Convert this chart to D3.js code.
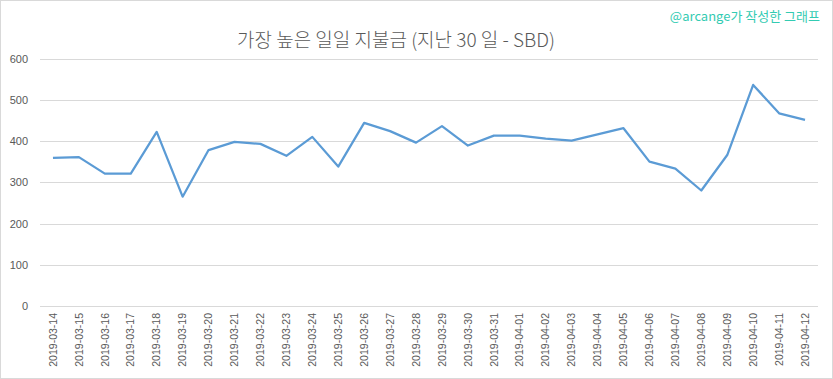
<!DOCTYPE html>
<html>
<head>
<meta charset="utf-8">
<script src="https://cdn.jsdelivr.net/npm/d3@7"></script>
<style>
  body { margin: 0; background: #fff; }
  svg { display: block; }
</style>
</head>
<body>
<script>
// data
var dates = ["2019-03-14","2019-03-15","2019-03-16","2019-03-17","2019-03-18","2019-03-19",
  "2019-03-20","2019-03-21","2019-03-22","2019-03-23","2019-03-24","2019-03-25","2019-03-26",
  "2019-03-27","2019-03-28","2019-03-29","2019-03-30","2019-03-31","2019-04-01","2019-04-02",
  "2019-04-03","2019-04-04","2019-04-05","2019-04-06","2019-04-07","2019-04-08","2019-04-09",
  "2019-04-10","2019-04-11","2019-04-12"];
var payouts = [359, 361, 321, 321, 422, 265, 378, 398, 393, 364, 410, 338, 444, 424, 396,
  436, 389, 413, 413, 406, 401, 416, 431, 350, 333, 280, 366, 536, 467, 451];
var yTicks = [0, 100, 200, 300, 400, 500, 600];

var w = 833, h = 379;
var margin = {top: 58.5, right: 15, bottom: 73, left: 40};

var svg = d3.select("body").append("svg")
  .attr("width", w)
  .attr("height", h);

// outer border
svg.append("rect")
  .attr("x", 0.5).attr("y", 0.5)
  .attr("width", w - 1).attr("height", h - 1)
  .style("fill", "#fff")
  .style("stroke", "#d9d9d9");

var x = d3.scaleBand()
  .domain(dates)
  .range([margin.left, w - margin.right]);

var y = d3.scaleLinear()
  .domain([0, 600])
  .range([h - margin.bottom, margin.top]);

// gridlines
svg.append("g")
  .selectAll("line")
  .data(yTicks)
  .enter().append("line")
  .attr("x1", margin.left)
  .attr("x2", w - margin.right)
  .attr("y1", function(d){ return Math.round(y(d)) + 0.5; })
  .attr("y2", function(d){ return Math.round(y(d)) + 0.5; })
  .style("stroke", "#d9d9d9")
  .style("stroke-width", 1);

// y axis labels
var yAxis = svg.append("g")
  .attr("transform", "translate(" + (margin.left - 12) + ",0)")
  .call(d3.axisLeft(y).tickValues(yTicks).tickSize(0).tickPadding(0));
yAxis.select(".domain").remove();
yAxis.selectAll("text")
  .style("font-family", "'Liberation Sans', Arial, sans-serif")
  .style("font-size", "11px")
  .style("fill", "#595959");

// x axis labels
var xAxis = svg.append("g")
  .attr("transform", "translate(0," + (h - margin.bottom) + ")")
  .call(d3.axisBottom(x).tickSize(0).tickPadding(0));
xAxis.select(".domain").remove();
xAxis.selectAll("text")
  .attr("transform", "rotate(-90)")
  .attr("x", -7)
  .attr("y", 0)
  .attr("dy", "0.35em")
  .style("text-anchor", "end")
  .style("font-family", "'Liberation Sans', Arial, sans-serif")
  .style("font-size", "10.5px")
  .style("fill", "#595959");

// the line
var line = d3.line()
  .x(function(d, i){ return x(dates[i]) + x.bandwidth() / 2; })
  .y(function(d){ return y(d); });

svg.append("path")
  .datum(payouts)
  .attr("d", line)
  .style("fill", "none")
  .style("stroke", "#5b9bd5")
  .style("stroke-width", 2.25)
  .style("stroke-linejoin", "round");

// title
svg.append("text")
  .attr("x", 396)
  .attr("y", 47)
  .attr("text-anchor", "middle")
  .style("font-family", "'Noto Sans CJK KR', sans-serif")
  .style("font-size", "19px")
  .style("font-weight", 300)
  .style("fill", "#595959")
  .text("가장 높은 일일 지불금 (지난 30 일 - SBD)");

// watermark
svg.append("text")
  .attr("x", 820)
  .attr("y", 21)
  .attr("text-anchor", "end")
  .style("font-family", "'Noto Sans CJK KR', sans-serif")
  .style("font-size", "13px")
  .style("fill", "#33cbb2")
  .text("@arcange가 작성한 그래프");
</script>
</body>
</html>
